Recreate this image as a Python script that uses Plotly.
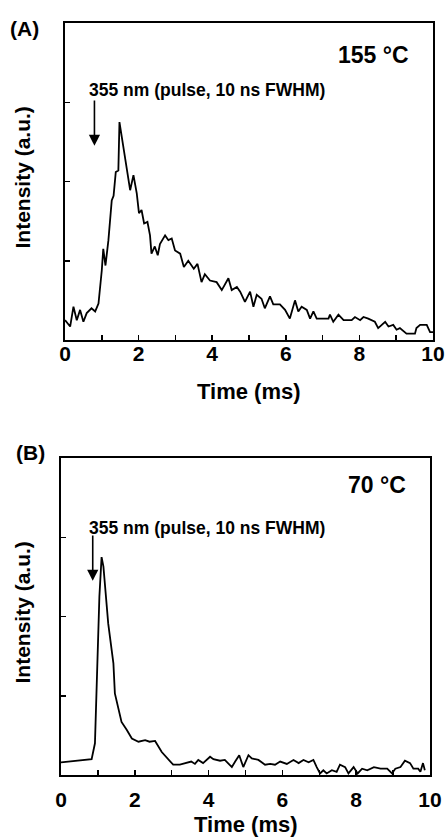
import plotly.graph_objects as go

W, H = 446, 838

# ---- data ----
tA = [0.0, 0.14, 0.23, 0.32, 0.41, 0.50, 0.59, 0.72, 0.82, 0.91, 1.00, 1.04, 1.10, 1.18, 1.27, 1.32, 1.38, 1.45, 1.48, 1.59,
      1.68, 1.77, 1.86, 1.95, 2.01, 2.08, 2.15, 2.24, 2.31, 2.35, 2.44, 2.52, 2.58, 2.72, 2.81, 2.90, 2.99, 3.13, 3.23, 3.35,
      3.50, 3.60, 3.71, 3.80, 3.94, 4.12, 4.26, 4.44, 4.53, 4.67, 4.76, 4.89, 5.03, 5.12, 5.21, 5.34, 5.43, 5.57, 5.66, 5.84,
      5.98, 6.11, 6.25, 6.34, 6.43, 6.57, 6.66, 6.75, 6.84, 7.16, 7.20, 7.29, 7.43, 7.57, 7.79, 7.88, 8.02, 8.11, 8.24, 8.42,
      8.51, 8.70, 8.79, 8.92, 9.01, 9.10, 9.28, 9.51, 9.55, 9.65, 9.83, 9.92, 10.0]
iA = [0.25, 0.17, 0.42, 0.25, 0.38, 0.23, 0.34, 0.40, 0.36, 0.46, 0.88, 1.15, 0.94, 1.26, 1.76, 1.82, 2.12, 2.14, 2.75, 2.43,
      2.18, 1.89, 2.08, 1.85, 1.60, 1.64, 1.47, 1.49, 1.32, 1.09, 1.18, 1.07, 1.21, 1.32, 1.26, 1.28, 1.13, 1.09, 0.92, 1.00,
      0.90, 0.96, 0.73, 0.83, 0.75, 0.73, 0.63, 0.78, 0.63, 0.67, 0.61, 0.48, 0.61, 0.42, 0.57, 0.52, 0.40, 0.55, 0.45, 0.45,
      0.38, 0.27, 0.50, 0.36, 0.42, 0.38, 0.27, 0.36, 0.27, 0.27, 0.32, 0.23, 0.32, 0.25, 0.25, 0.29, 0.25, 0.29, 0.27, 0.23,
      0.15, 0.23, 0.17, 0.19, 0.13, 0.15, 0.08, 0.08, 0.15, 0.19, 0.19, 0.10, 0.10]

tB = [0.0, 0.83, 0.92, 0.99, 1.04, 1.10, 1.15, 1.28, 1.42, 1.46, 1.55, 1.64, 1.78, 1.92, 2.10, 2.28, 2.40, 2.55, 2.73, 2.91,
      3.04, 3.22, 3.40, 3.53, 3.63, 3.72, 3.85, 4.04, 4.13, 4.31, 4.44, 4.63, 4.72, 4.83, 4.94, 5.08, 5.17, 5.35, 5.53, 5.67,
      5.80, 5.94, 6.12, 6.30, 6.44, 6.57, 6.71, 6.84, 6.93, 7.02, 7.11, 7.20, 7.34, 7.47, 7.56, 7.70, 7.79, 7.93, 8.04, 8.16,
      8.30, 8.48, 8.66, 8.84, 8.97, 9.06, 9.20, 9.32, 9.46, 9.55, 9.68, 9.74, 9.81, 9.86]
iB = [0.16, 0.20, 0.40, 1.41, 2.25, 2.75, 2.63, 1.91, 1.41, 1.03, 0.86, 0.67, 0.57, 0.46, 0.42, 0.44, 0.42, 0.43, 0.29, 0.19,
      0.13, 0.13, 0.15, 0.17, 0.14, 0.19, 0.15, 0.23, 0.20, 0.18, 0.19, 0.10, 0.17, 0.25, 0.10, 0.25, 0.21, 0.19, 0.13, 0.14,
      0.13, 0.17, 0.14, 0.19, 0.15, 0.19, 0.16, 0.19, 0.10, 0.02, 0.06, 0.02, 0.06, 0.04, 0.13, 0.10, 0.02, 0.10, 0.02, 0.08,
      0.06, 0.10, 0.08, 0.08, 0.02, 0.08, 0.10, 0.18, 0.15, 0.08, 0.08, 0.04, 0.15, 0.06]

x_ticks = [0, 1, 2, 3, 4, 5, 6, 7, 8, 9, 10]
x_labels = ["0", "", "2", "", "4", "", "6", "", "8", "", "10"]
y_ticks = [1, 2, 3]
temps = ["155 °C", "70 °C"]
panel_labels = ["(A)", "(B)"]
pulse_text = "355 nm (pulse, 10 ns FWHM)"
arrow_t = [0.80, 0.86]

FONT = "Liberation Sans"


def px(x):
    return x / W


def py(y):
    return 1 - y / H


# panel boxes in pixels: (left, right, top, bottom)
boxes = [(65, 433, 23, 340), (61, 430, 458, 775)]

fig = go.Figure()
fig.add_trace(go.Scatter(x=tA, y=iA, mode="lines", line=dict(color="black", width=1.8),
                         xaxis="x", yaxis="y", showlegend=False))
fig.add_trace(go.Scatter(x=tB, y=iB, mode="lines", line=dict(color="black", width=1.8),
                         xaxis="x2", yaxis="y2", showlegend=False))

axis_common = dict(showline=True, mirror=True, linecolor="black", linewidth=2,
                   ticks="inside", ticklen=5, tickwidth=1.5, tickcolor="black",
                   showgrid=False, zeroline=False, fixedrange=True, automargin=False)

layout = dict(template="none", width=W, height=H, margin=dict(l=0, r=0, t=0, b=0, pad=0),
              paper_bgcolor="white", plot_bgcolor="white", showlegend=False)

annotations = []
for k, (l, r, t, b) in enumerate(boxes):
    sx = "" if k == 0 else str(k + 1)
    layout["xaxis" + sx] = dict(axis_common, domain=[px(l), px(r)], range=[0, 10],
                                tickvals=x_ticks, ticktext=x_labels, anchor="y" + sx,
                                tickfont=dict(family=FONT, size=21, color="black", weight="bold"),
                                ticklabelstandoff=-6 if k == 0 else 5)
    layout["yaxis" + sx] = dict(axis_common, domain=[py(b), py(t)], range=[0, 4],
                                tickvals=y_ticks, ticktext=["", "", ""], anchor="x" + sx)
    # axis titles
    annotations.append(dict(text="<b>Time (ms)</b>", xref="paper", yref="paper",
                            x=px((l + r) / 2), y=py(b + (51 if k == 0 else 49)),
                            xanchor="center", yanchor="middle", showarrow=False,
                            font=dict(family=FONT, size=22, color="black")))
    annotations.append(dict(text="<b>Intensity (a.u.)</b>", xref="paper", yref="paper",
                            x=px(22), y=py((t + b) / 2 - 4), textangle=-90,
                            xanchor="center", yanchor="middle", showarrow=False,
                            font=dict(family=FONT, size=21, color="black")))
    # panel label
    annotations.append(dict(text="<b>" + panel_labels[k] + "</b>", xref="paper", yref="paper",
                            x=px(24 if k == 0 else 30), y=py(t + 6 if k == 0 else t - 6),
                            xanchor="center", yanchor="middle", showarrow=False,
                            font=dict(family=FONT, size=21, color="black")))
    # temperature
    annotations.append(dict(text="<b>" + temps[k] + "</b>", xref="paper", yref="paper",
                            x=px(411 if k == 0 else 408), y=py(t + 32 if k == 0 else t + 27),
                            xanchor="right", yanchor="middle", showarrow=False,
                            font=dict(family=FONT, size=23, color="black")))
    # pulse text
    annotations.append(dict(text="<b>" + pulse_text + "</b>", xref="paper", yref="paper",
                            x=px(87), y=py(t + 67 if k == 0 else t + 70),
                            xanchor="left", yanchor="middle", showarrow=False,
                            font=dict(family=FONT, size=17.5, color="black")))
    # arrow
    annotations.append(dict(x=arrow_t[k], y=2.45, ax=arrow_t[k], ay=3.04,
                            xref="x" + sx, yref="y" + sx, axref="x" + sx, ayref="y" + sx,
                            showarrow=True, arrowhead=2, arrowsize=1.4, arrowwidth=1.6,
                            arrowcolor="black", text=""))

layout["annotations"] = annotations
fig.update_layout(**layout)
fig.write_html(
    "out.html",
    config={"displayModeBar": False, "staticPlot": True},
    post_script="document.body.style.margin='0';document.body.style.padding='0';"
                "document.documentElement.style.overflow='hidden';",
)
